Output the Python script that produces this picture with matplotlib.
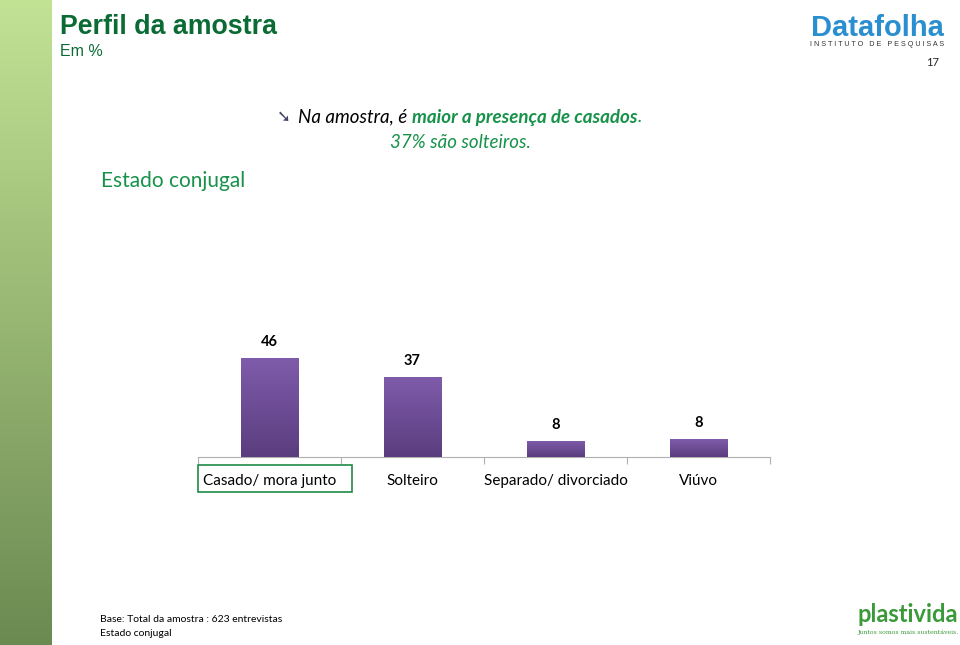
import matplotlib
matplotlib.use("Agg")
import matplotlib.pyplot as plt
import numpy as np
from matplotlib.patches import Rectangle

# chart data
categories = ["Casado/ mora junto", "Solteiro", "Separado/ divorciado", "Viúvo"]
values = [46, 37, 7.6, 8.2]
labels = ["46", "37", "8", "8"]

W, H = 960, 645
DARK_GREEN = "#0b6b35"
GREEN = "#17924a"
PURPLE_TOP = "#7f5cab"
PURPLE_BOT = "#5a3d7e"
BODY_FONT = ["Lato", "DejaVu Sans"]

fig = plt.figure(figsize=(W / 100, H / 100), dpi=100)
fig.patch.set_facecolor("white")


def fx(px):
    return px / W


def fy(py):
    return 1 - py / H


# left green strip with vertical gradient
strip = fig.add_axes([0, 0, fx(52), 1])
grad = np.linspace(0, 1, 256).reshape(-1, 1)
c_top = np.array(matplotlib.colors.to_rgb("#c2e394"))
c_bot = np.array(matplotlib.colors.to_rgb("#6b8a52"))
img = c_top + (c_bot - c_top) * grad[:, :, None]
strip.imshow(img, aspect="auto", extent=[0, 1, 0, 1])
strip.axis("off")

# header
fig.text(fx(60), fy(27), "Perfil da amostra", fontsize=19.3, fontweight="bold",
         color=DARK_GREEN, family="Liberation Sans", va="center")
fig.text(fx(60), fy(52), "Em %", fontsize=11.5, color=DARK_GREEN,
         family="Liberation Sans", va="center")

# Datafolha logo (text approximation)
fig.text(fx(877), fy(28), "Datafolha", fontsize=21, fontweight="bold",
         color="#2a8fd0", family="Liberation Sans", ha="center", va="center")
fig.text(fx(877), fy(45), "I N S T I T U T O   D E   P E S Q U I S A S", fontsize=5.2,
         color="#333333", family="Liberation Sans", ha="center", va="center")
fig.text(fx(933), fy(63), "17", fontsize=8, color="#222222", family=BODY_FONT,
         ha="center", va="center")

# headline with mixed styles
renderer = fig.canvas.get_renderer()


def run_text(x_px, y_px, parts, fontsize=13.5):
    x = x_px
    for txt, color, weight in parts:
        t = fig.text(fx(x), fy(y_px), txt, fontsize=fontsize, color=color,
                     fontweight=weight, style="italic", family=BODY_FONT, va="center")
        bb = t.get_window_extent(renderer=renderer)
        x += bb.width


fig.text(fx(284), fy(117), "➘", fontsize=12, color="#444466", family="DejaVu Sans",
         ha="center", va="center")
run_text(298, 117, [("Na amostra, é ", "black", "normal"),
                    ("maior a presença de casados", GREEN, "bold"),
                    (".", GREEN, "normal")])
fig.text(fx(460), fy(142), "37% são solteiros.", fontsize=13.5, color=GREEN,
         style="italic", family=BODY_FONT, ha="center", va="center")

fig.text(fx(173), fy(181), "Estado conjugal", fontsize=15, color=GREEN,
         family=BODY_FONT, ha="center", va="center")

# bar chart
ax = fig.add_axes([fx(198), fy(457), fx(770 - 198), (457 - 330) / H])
x = np.arange(len(categories))
bars = ax.bar(x, values, width=0.4, color=PURPLE_TOP, zorder=2)

# vertical gradient fill for each bar
bgrad = np.linspace(1, 0, 256).reshape(-1, 1)
p_top = np.array(matplotlib.colors.to_rgb(PURPLE_TOP))
p_bot = np.array(matplotlib.colors.to_rgb(PURPLE_BOT))
bimg = p_bot + (p_top - p_bot) * bgrad[:, :, None]
for b in bars:
    bx, by = b.get_x(), b.get_y()
    im = ax.imshow(bimg, aspect="auto", zorder=3,
                   extent=[bx, bx + b.get_width(), by, by + b.get_height()])
    im.set_clip_path(b)
ax.set_xlim(-0.5, len(categories) - 0.5)
ax.set_ylim(0, 59)

for xi, v, lab in zip(x, values, labels):
    ax.text(xi, v + 4.2, lab, ha="center", va="bottom", fontsize=10.5,
            fontweight="bold", family=BODY_FONT, color="black")

for s in ["top", "right", "left"]:
    ax.spines[s].set_visible(False)
ax.spines["bottom"].set_color("#b0b0b0")
ax.set_yticks([])
ax.set_xticks(np.arange(len(categories) + 1) - 0.5)
ax.set_xticklabels([])
ax.tick_params(axis="x", length=5, color="#b0b0b0", direction="out")
ax.set_xticks(x, minor=True)
ax.set_xticklabels(categories, minor=True, fontsize=11, family=BODY_FONT)
ax.tick_params(axis="x", which="minor", length=0, pad=12)

# green box around first category label
fig.patches.append(Rectangle((fx(198), fy(492)), fx(352 - 198), (492 - 465) / H,
                             transform=fig.transFigure, fill=False,
                             edgecolor="#1f8a45", linewidth=1.2))

# footer
fig.text(fx(100), fy(620), "Base: Total da amostra : 623 entrevistas", fontsize=7.5,
         family=BODY_FONT, va="center", color="black")
fig.text(fx(100), fy(634), "Estado conjugal", fontsize=7.5, family=BODY_FONT,
         va="center", color="black")

# plastivida logo (text approximation)
fig.text(fx(908), fy(615), "plastivida", fontsize=17, fontweight="bold",
         color="#3a9a3a", family=BODY_FONT, ha="center", va="center")
fig.text(fx(908), fy(632), "Juntos somos mais sustentáveis.", fontsize=4.5,
         color="#3a9a3a", family="DejaVu Serif", ha="center", va="center")

fig.savefig("out.png", dpi=100)
